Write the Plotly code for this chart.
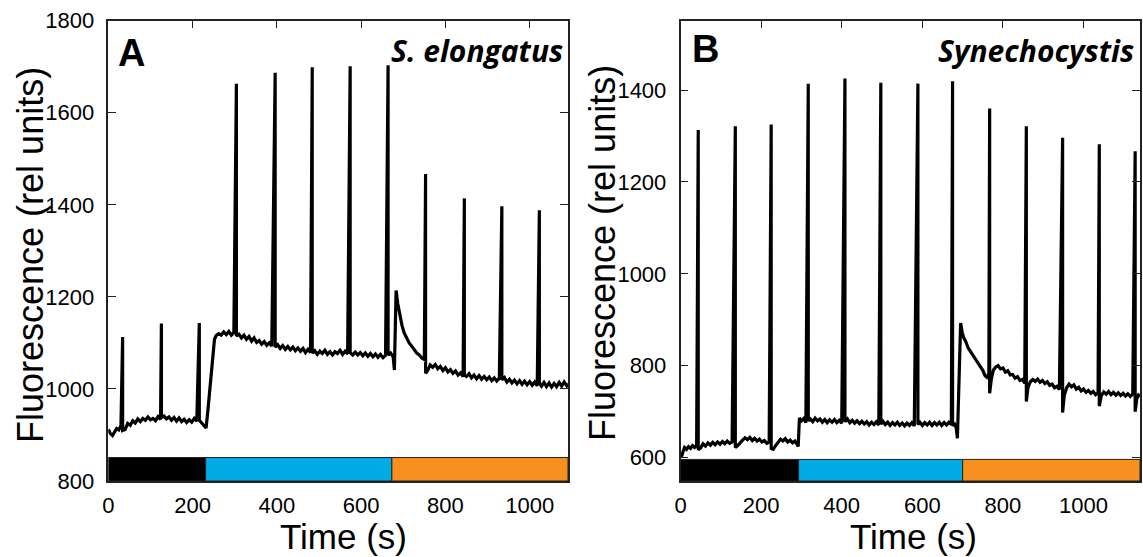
import plotly.graph_objects as go

W, H = 1143, 557

# ---------------- Panel A : S. elongatus ----------------
a_t = [0, 5, 10, 15, 20, 25, 30,
       40, 46, 52, 58, 64, 70, 76, 82, 88, 94, 100, 106, 112, 118, 124,
       132, 138, 144, 150, 156, 162, 168, 174, 180, 186, 192, 198, 204, 210,
       222, 228, 232, 236, 240, 244, 248, 252, 256, 262, 268, 274, 280, 286, 292, 298,
       310, 316, 322, 328, 334, 340, 346, 352, 358, 364, 370, 376, 382, 388,
       402, 408, 414, 420, 426, 432, 438, 444, 450, 456, 462, 468, 474, 480,
       490, 496, 502, 508, 514, 520, 526, 532, 538, 544, 550, 556, 562, 568,
       580, 586, 592, 598, 604, 610, 616, 622, 628, 634, 640, 646, 652, 658,
       670, 676, 679, 683, 687, 692, 697, 702, 708, 714, 720, 726, 732, 738, 744, 750,
       758, 764, 770, 776, 782, 788, 794, 800, 806, 812, 818, 824, 830, 836, 842,
       850, 856, 862, 868, 874, 880, 886, 892, 898, 904, 910, 916, 922, 928,
       940, 946, 952, 958, 964, 970, 976, 982, 988, 994, 1000, 1006, 1012, 1018,
       1028, 1034, 1040, 1046, 1052, 1058, 1064, 1070, 1076, 1082, 1088, 1091]
a_v = [912, 903, 899, 906, 914, 911, 920,
       912, 925, 921, 931, 926, 935, 929, 936, 932, 939, 933, 936, 931, 940, 934,
       941, 935, 939, 932, 938, 930, 937, 929, 934, 927, 933, 928, 936, 930,
       926, 918, 915, 950, 990, 1040, 1080, 1108, 1116, 1120, 1117, 1124, 1118, 1125, 1117, 1123,
       1119, 1111, 1117, 1108, 1114, 1104, 1111, 1101, 1105, 1097, 1103, 1095, 1100, 1093,
       1096, 1088, 1094, 1086, 1092, 1085, 1091, 1083, 1089, 1082, 1088, 1079, 1086, 1079,
       1083, 1075, 1082, 1077, 1084, 1075, 1081, 1074, 1081, 1077, 1084, 1075, 1082, 1076,
       1074, 1080, 1074, 1079, 1072, 1078, 1071, 1077, 1070, 1076, 1069, 1075, 1068, 1073,
       1078, 1070, 1041, 1214, 1185, 1158, 1138, 1122, 1110, 1100, 1093, 1085, 1078, 1074, 1067, 1064,
       1040, 1052, 1047, 1053, 1044, 1049, 1040, 1046, 1037, 1042, 1034, 1039, 1030, 1035, 1027,
       1027, 1033, 1024, 1030, 1022, 1029, 1021, 1027, 1020, 1026, 1018, 1024, 1017, 1023,
       1025, 1015, 1021, 1013, 1019, 1011, 1018, 1010, 1017, 1009, 1016, 1008, 1015, 1007,
       1006, 1014, 1005, 1013, 1004, 1012, 1005, 1014, 1006, 1015, 1007, 1012]
a_spike_t = [34, 126, 216, 304, 396, 484, 574, 664, 753, 845, 934, 1023]
a_spike_peak = [1113, 1142, 1143, 1663, 1687, 1699, 1701, 1703, 1467, 1414, 1397, 1388]
a_spike_low = [910, 938, 932, 1115, 1091, 1078, 1079, 1074, 1034, 1030, 1020, 1013]
a_light_edges = [0, 231, 673, 1091]

# ---------------- Panel B : Synechocystis ----------------
b_t = [0, 3, 6, 10, 15, 20, 25, 30, 35, 40,
       50, 56, 62, 68, 74, 80, 86, 92, 98, 104, 110, 116, 122, 128,
       142, 148, 154, 160, 166, 172, 178, 184, 190, 196, 202, 208, 214, 220,
       230, 236, 242, 248, 254, 260, 266, 272, 278, 284, 290, 292, 295, 300, 306, 311,
       322, 328, 334, 340, 346, 352, 358, 364, 370, 376, 382, 388, 394, 400,
       414, 420, 426, 432, 438, 444, 450, 456, 462, 468, 474, 480, 486, 492,
       502, 508, 514, 520, 526, 532, 538, 544, 550, 556, 562, 568, 574, 580,
       594, 600, 606, 612, 618, 624, 630, 636, 642, 648, 654, 660, 666, 672,
       680, 684, 687, 691, 695, 699, 703, 708, 714, 720, 726, 732, 738, 744, 750, 755, 760, 765,
       771, 776, 782, 788, 794, 800, 806, 812, 818, 824, 830, 836, 842, 848, 854,
       862, 868, 874, 880, 886, 892, 898, 904, 910, 916, 922, 928, 934, 940,
       952, 958, 964, 970, 976, 982, 988, 994, 1000, 1006, 1012, 1018, 1024, 1030, 1036,
       1044, 1050, 1056, 1062, 1068, 1074, 1080, 1086, 1092, 1098, 1104, 1110, 1116, 1122,
       1132, 1136, 1140]
b_v = [606, 603, 612, 622, 618, 624, 620, 626, 622, 627,
       621, 630, 625, 632, 627, 633, 628, 634, 629, 635, 630, 636, 631, 634,
       626, 633, 638, 643, 639, 644, 637, 642, 636, 640, 634, 637, 631, 634,
       618, 626, 634, 640, 636, 641, 634, 638, 632, 636, 628, 624, 686, 680, 685, 676,
       684, 678, 686, 680, 684, 677, 683, 676, 682, 677, 683, 676, 681, 675,
       684, 676, 681, 675, 680, 674, 679, 673, 678, 671, 677, 672, 678, 671,
       679, 672, 677, 670, 676, 671, 677, 670, 675, 669, 675, 670, 676, 669,
       677, 670, 676, 671, 677, 670, 676, 671, 677, 670, 676, 671, 677, 672,
       673, 665, 642, 800, 893, 872, 860, 852, 838, 830, 822, 814, 808, 798, 790, 779, 775, 782,
       770, 790, 797, 800, 793, 795, 786, 789, 780, 781, 773, 776, 768, 770, 762,
       752, 765, 770, 766, 771, 764, 768, 761, 765, 757, 760, 752, 755, 748,
       735, 752, 760, 754, 758, 749, 753, 745, 749, 742, 746, 740, 744, 737, 741,
       735, 743, 738, 744, 737, 742, 736, 741, 735, 740, 734, 739, 733, 738,
       728, 736, 733]
b_spike_t = [44, 136, 225, 317, 408, 497, 589, 675, 767, 858, 948, 1039, 1128]
b_spike_peak = [1313, 1321, 1325, 1414, 1425, 1416, 1414, 1419, 1360, 1321, 1296, 1282, 1267]
b_spike_low = [617, 622, 620, 680, 678, 673, 672, 670, 740, 722, 698, 712, 700]
b_light_edges = [0, 293, 700, 1140]

light_colors = ["#000000", "#00ABE6", "#F7901E"]


def build(t, v, st, sp, sl):
    xs, ys = [], []
    spikes = sorted(zip(st, sp, sl))
    j = 0
    for ti, vi in zip(t, v):
        while j < len(spikes) and spikes[j][0] <= ti:
            s = spikes[j]
            xs += [s[0], s[0]]
            ys += [s[1], s[2]]
            j += 1
        xs.append(ti)
        ys.append(vi)
    return xs, ys


ax_x, ay_y = build(a_t, a_v, a_spike_t, a_spike_peak, a_spike_low)
bx_x, by_y = build(b_t, b_v, b_spike_t, b_spike_peak, b_spike_low)

fig = go.Figure()
fig.add_trace(go.Scatter(x=ax_x, y=ay_y, mode="lines", line=dict(color="black", width=3.2),
                         xaxis="x", yaxis="y", showlegend=False, hoverinfo="skip"))
fig.add_trace(go.Scatter(x=bx_x, y=by_y, mode="lines", line=dict(color="black", width=3.2),
                         xaxis="x2", yaxis="y2", showlegend=False, hoverinfo="skip"))

shapes = []
for edges, xr, yr, y0, y1 in [(a_light_edges, "x", "y", 800, 851),
                              (b_light_edges, "x2", "y2", 549, 596)]:
    for i in range(3):
        shapes.append(dict(type="rect", xref=xr, yref=yr, x0=edges[i], x1=edges[i + 1],
                           y0=y0, y1=y1, fillcolor=light_colors[i],
                           line=dict(color="#222222", width=1), layer="above"))

tickfont = dict(family="Liberation Sans, Arial, sans-serif", size=22, color="black")
common = dict(showline=True, linecolor="#222222", linewidth=1.5, mirror="ticks",
              ticks="inside", ticklen=8, tickwidth=1.2, tickcolor="#222222",
              showgrid=False, zeroline=False, tickfont=tickfont, automargin=False)

top = 1 - 20.7 / H
bot = 1 - 481 / H
fig.update_layout(
    template="none",
    width=W, height=H,
    margin=dict(l=0, r=0, t=0, b=0, pad=0, autoexpand=False),
    paper_bgcolor="white", plot_bgcolor="white",
    showlegend=False,
    xaxis=dict(domain=[108.3 / W, 568 / W], range=[0, 1091], anchor="y",
               tickvals=[0, 200, 400, 600, 800, 1000], ticklabelstandoff=4, **common),
    yaxis=dict(domain=[bot, top], range=[800, 1800], anchor="x",
               tickvals=[800, 1000, 1200, 1400, 1600, 1800], ticklabelstandoff=8, **common),
    xaxis2=dict(domain=[680.5 / W, 1140 / W], range=[0, 1140], anchor="y2",
                tickvals=[0, 200, 400, 600, 800, 1000], ticklabelstandoff=4, **common),
    yaxis2=dict(domain=[bot, top], range=[549, 1551], anchor="x2",
                tickvals=[600, 800, 1000, 1200, 1400], ticklabelstandoff=8, **common),
    shapes=shapes,
)

titlefont = dict(family="Liberation Sans, Arial, sans-serif", size=35, color="black")
annots = [
    dict(text="Time (s)", x=343 / W, y=1 - 536 / H, font=titlefont),
    dict(text="Time (s)", x=913 / W, y=1 - 536 / H, font=titlefont),
    dict(text="Fluorescence (rel units)", x=30 / W, y=1 - 255 / H,
         font=dict(family="Liberation Sans, Arial, sans-serif", size=36, color="black"), textangle=-90),
    dict(text="Fluorescence (rel units)", x=602 / W, y=1 - 253 / H,
         font=dict(family="Liberation Sans, Arial, sans-serif", size=36, color="black"), textangle=-90),
    dict(text="<b>A</b>", x=116 / W, y=1 - 53 / H, xanchor="left",
         font=dict(family="Liberation Sans, Arial, sans-serif", size=38, color="black")),
    dict(text="<b>B</b>", x=690 / W, y=1 - 49 / H, xanchor="left",
         font=dict(family="Liberation Sans, Arial, sans-serif", size=38, color="black")),
    dict(text="<b><i>S. elongatus</i></b>", x=565 / W, y=1 - 50 / H, xanchor="right",
         font=dict(family="Open Sans, sans-serif", size=30, color="black")),
    dict(text="<b><i>Synechocystis</i></b>", x=1136 / W, y=1 - 50 / H, xanchor="right",
         font=dict(family="Open Sans, sans-serif", size=30, color="black")),
]
for a in annots:
    a.setdefault("xanchor", "center")
    a.update(xref="paper", yref="paper", yanchor="middle", showarrow=False)
fig.update_layout(annotations=annots)

fig.write_html("out.html", config={"displayModeBar": False},
               post_script="document.body.style.margin='0';")
